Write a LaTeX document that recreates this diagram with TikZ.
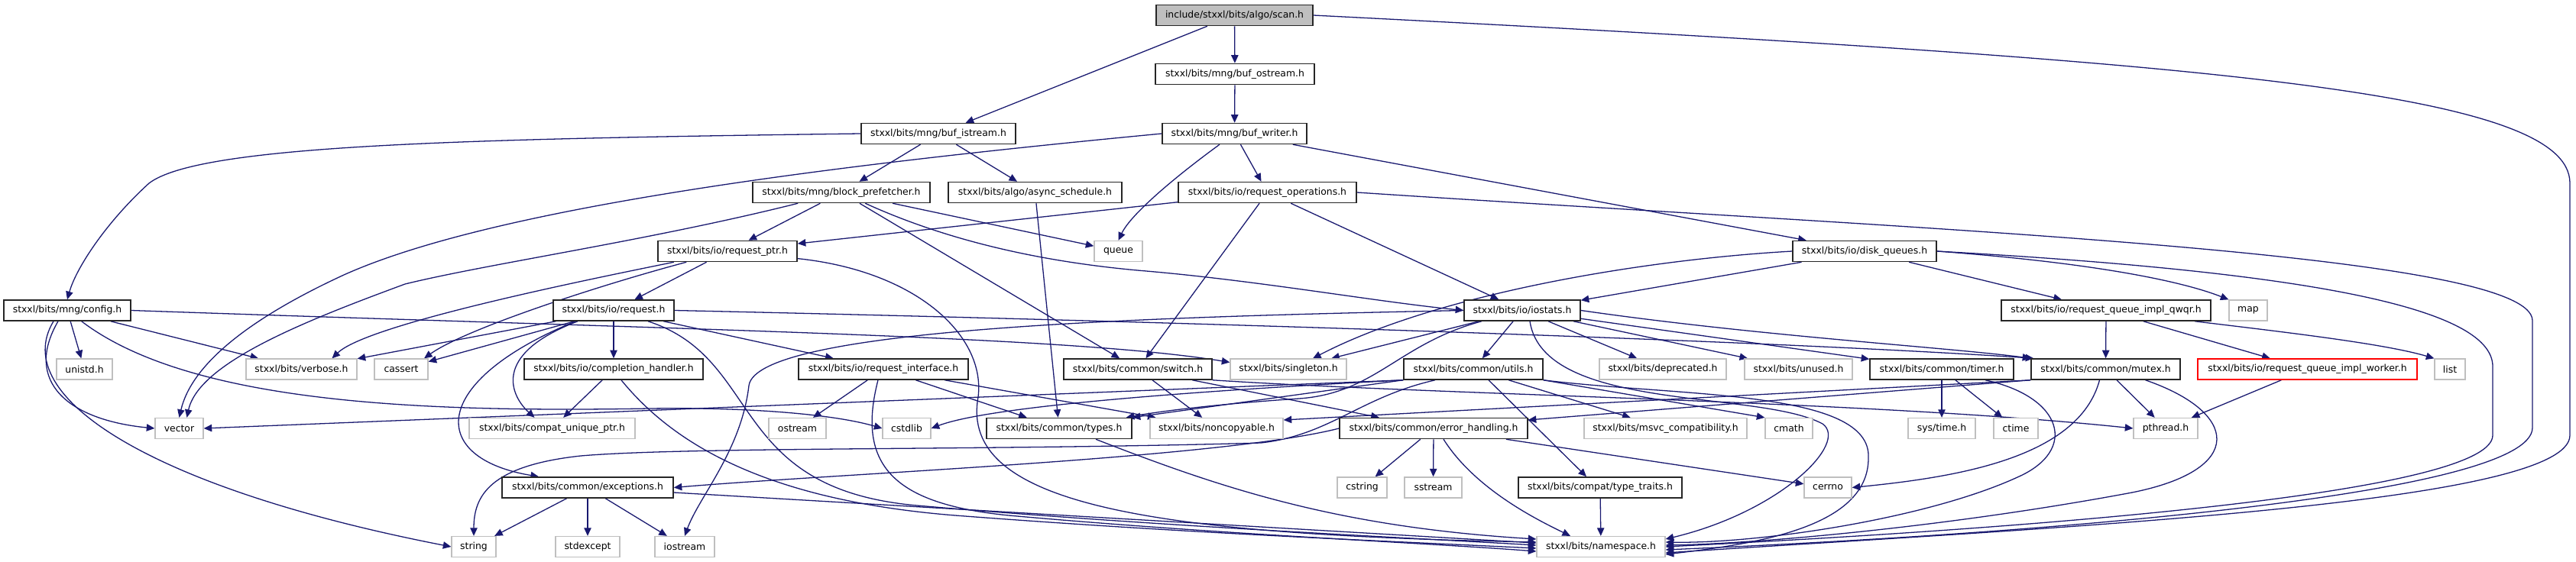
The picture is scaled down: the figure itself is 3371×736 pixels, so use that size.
\documentclass[tikz,border=0pt]{standalone}
\usepackage{fontspec}
\setmainfont{DejaVu Sans}
\usetikzlibrary{arrows.meta,calc,backgrounds}
\definecolor{edgeblue}{HTML}{191970}
\definecolor{sysgrey}{HTML}{BFBFBF}

\begin{document}
\begin{tikzpicture}[
        x=0.03cm, y=-0.03cm,
        hdr/.style={rectangle, draw=black!85, line width=1.3pt, fill=white, inner sep=0pt, minimum height=0.81cm, font=\fontsize{10.6}{12}\selectfont},
        sys/.style={hdr, draw=sysgrey, line width=1.1pt},
        root/.style={hdr, fill=sysgrey},
        undoc/.style={hdr, draw=red},
        dep/.style={-{Triangle[length=9pt, width=8pt]}, line width=1.1pt, draw=edgeblue}
    ]
        \useasboundingbox (0,0) rectangle (3371,736);

        \node[root, minimum width=6.15cm] (scan) at (1615.5,20) {include/stxxl/bits/algo/scan.h};
        \node[hdr, minimum width=6.24cm] (bufo) at (1616,97) {stxxl/bits/mng/buf\_ostream.h};
        \node[hdr, minimum width=6.06cm] (bufi) at (1228,175) {stxxl/bits/mng/buf\_istream.h};
        \node[hdr, minimum width=5.67cm] (bufw) at (1615.5,175) {stxxl/bits/mng/buf\_writer.h};
        \node[hdr, minimum width=6.96cm] (prefetch) at (1101,252) {stxxl/bits/mng/block\_prefetcher.h};
        \node[hdr, minimum width=6.81cm] (async) at (1354.5,252) {stxxl/bits/algo/async\_schedule.h};
        \node[hdr, minimum width=6.99cm] (reqops) at (1658.5,252) {stxxl/bits/io/request\_operations.h};
        \node[hdr, minimum width=5.46cm] (reqptr) at (952,329) {stxxl/bits/io/request\_ptr.h};
        \node[sys, minimum width=1.89cm] (queue) at (1463.5,329) {queue};
        \node[hdr, minimum width=5.64cm] (diskq) at (2440,329) {stxxl/bits/io/disk\_queues.h};
        \node[hdr, minimum width=4.98cm] (config) at (88,406.5) {stxxl/bits/mng/config.h};
        \node[hdr, minimum width=4.74cm] (request) at (803,406.5) {stxxl/bits/io/request.h};
        \node[hdr, minimum width=4.56cm] (iostats) at (1992,406.5) {stxxl/bits/io/iostats.h};
        \node[hdr, minimum width=8.22cm] (qwqr) at (2756,406.5) {stxxl/bits/io/request\_queue\_impl\_qwqr.h};
        \node[sys, minimum width=1.5cm] (map) at (2942,406.5) {map};

        \node[sys, minimum width=2.19cm] (unistd) at (110.5,483.5) {unistd.h};
        \node[sys, minimum width=4.35cm] (verbose) at (394.5,483.5) {stxxl/bits/verbose.h};
        \node[sys, minimum width=2.1cm] (cassert) at (525,483.5) {cassert};
        \node[hdr, minimum width=7.02cm] (complh) at (803,483.5) {stxxl/bits/io/completion\_handler.h};
        \node[hdr, minimum width=6.66cm] (reqif) at (1156,483.5) {stxxl/bits/io/request\_interface.h};
        \node[hdr, minimum width=5.82cm] (switch) at (1489,483.5) {stxxl/bits/common/switch.h};
        \node[sys, minimum width=4.56cm] (singleton) at (1686,483.5) {stxxl/bits/singleton.h};
        \node[hdr, minimum width=5.46cm] (utils) at (1928,483.5) {stxxl/bits/common/utils.h};
        \node[sys, minimum width=4.98cm] (deprecated) at (2176,483.5) {stxxl/bits/deprecated.h};
        \node[sys, minimum width=4.23cm] (unused) at (2353.5,483.5) {stxxl/bits/unused.h};
        \node[hdr, minimum width=5.64cm] (timer) at (2541,483.5) {stxxl/bits/common/timer.h};
        \node[hdr, minimum width=5.85cm] (mutex) at (2755.5,483.5) {stxxl/bits/common/mutex.h};
        \node[undoc, minimum width=8.61cm] (worker) at (3019.5,483.5) {stxxl/bits/io/request\_queue\_impl\_worker.h};
        \node[sys, minimum width=1.2cm] (list) at (3206,483.5) {list};

        \node[sys, minimum width=1.89cm] (vector) at (234.5,561) {vector};
        \node[sys, minimum width=6.51cm] (cuptr) at (722.5,561) {stxxl/bits/compat\_unique\_ptr.h};
        \node[sys, minimum width=2.25cm] (ostream) at (1043.5,561) {ostream};
        \node[sys, minimum width=1.89cm] (cstdlib) at (1186.5,561) {cstdlib};
        \node[hdr, minimum width=5.7cm] (types) at (1386,561) {stxxl/bits/common/types.h};
        \node[sys, minimum width=5.22cm] (noncopy) at (1592,561) {stxxl/bits/noncopyable.h};
        \node[hdr, minimum width=7.38cm] (errh) at (1876,561) {stxxl/bits/common/error\_handling.h};
        \node[sys, minimum width=6.39cm] (msvc) at (2179.5,561) {stxxl/bits/msvc\_compatibility.h};
        \node[sys, minimum width=1.86cm] (cmath) at (2341,561) {cmath};
        \node[sys, minimum width=2.64cm] (systime) at (2541,561) {sys/time.h};
        \node[sys, minimum width=1.74cm] (ctime) at (2638,561) {ctime};
        \node[sys, minimum width=2.52cm] (pthread) at (2834,561) {pthread.h};

        \node[hdr, minimum width=6.72cm] (except) at (769,638.5) {stxxl/bits/common/exceptions.h};
        \node[sys, minimum width=1.95cm] (cstring) at (1782.5,638.5) {cstring};
        \node[sys, minimum width=2.25cm] (sstream) at (1875.5,638.5) {sstream};
        \node[hdr, minimum width=6.42cm] (typetr) at (2094,638.5) {stxxl/bits/compat/type\_traits.h};
        \node[sys, minimum width=1.86cm] (cerrno) at (2392,638.5) {cerrno};

        \node[sys, minimum width=1.74cm] (string) at (620,716) {string};
        \node[sys, minimum width=2.52cm] (stdexcept) at (769,716) {stdexcept};
        \node[sys, minimum width=2.34cm] (iostream) at (896,716) {iostream};
        \node[sys, minimum width=5.04cm] (namespace) at (2095,716) {stxxl/bits/namespace.h};

        \begin{scope}[on background layer]
        \fill[white] (0,0) rectangle (3371,736);

        \draw[dep] (scan) -- (bufi);
        \draw[dep] (scan) -- (bufo);
        \draw[dep] (scan.east) .. controls (2900,80) and (3363,120) .. (3363,240) -- (3363,570) .. controls (3363,660) and (2700,690) .. ($(namespace.east)+(0,8)$);
        \draw[dep] (bufo) -- (bufw);
        \draw[dep] (bufi.west) .. controls (600,182) and (260,190) .. (195,240) .. controls (140,290) and (100,350) .. (config.north);
        \draw[dep] (bufi) -- (prefetch);
        \draw[dep] (bufi) -- (async);
        \draw[dep] (bufw.west) .. controls (1100,215) and (650,270) .. (450,360) .. controls (320,420) and (250,480) .. (vector.north);
        \draw[dep] (bufw) .. controls (1540,230) and (1480,280) .. (queue.north);
        \draw[dep] (bufw) -- (reqops);
        \draw[dep] (bufw) -- (diskq);

        \draw[dep] (prefetch) -- (reqptr);
        \draw[dep] (prefetch) .. controls (850,315) and (640,345) .. (530,372) .. controls (400,420) and (260,475) .. ($(vector.north)+(10,0)$);
        \draw[dep] (prefetch) -- (switch);
        \draw[dep] (prefetch) .. controls (1250,320) and (1380,345) .. (1500,355) .. controls (1650,368) and (1800,395) .. (iostats.west);
        \draw[dep] (prefetch) -- (queue);
        \draw[dep] (async) -- (types);
        \draw[dep] (reqops) -- (reqptr);
        \draw[dep] (reqops) -- (switch);
        \draw[dep] (reqops) -- (iostats);
        \draw[dep] (reqops.east) .. controls (2500,300) and (3314,330) .. (3314,420) -- (3314,560) .. controls (3314,650) and (2650,700) .. ($(namespace.east)+(0,4)$);

        \draw[dep] (reqptr) -- (request);
        \draw[dep] (reqptr) .. controls (760,368) and (480,425) .. ($(verbose.north)+(40,0)$);
        \draw[dep] (reqptr) .. controls (790,372) and (610,430) .. ($(cassert.north)+(30,0)$);
        \draw[dep] (reqptr) .. controls (1200,355) and (1290,440) .. (1280,520) .. controls (1255,660) and (1500,700) .. ($(namespace.west)+(0,-6)$);
        \draw[dep] (diskq) -- (iostats);
        \draw[dep] (diskq.west) .. controls (2150,340) and (1880,385) .. ($(singleton.north)+(32,0)$);
        \draw[dep] (diskq) -- (qwqr);
        \draw[dep] (diskq.east) .. controls (2750,345) and (2860,370) .. (map.north west);
        \draw[dep] (diskq.east) .. controls (3000,355) and (3262,400) .. (3262,480) -- (3262,570) .. controls (3262,650) and (2600,695) .. (namespace.east);

        \draw[dep] (config) -- (unistd);
        \draw[dep] (config) -- (verbose);
        \draw[dep] ($(config.south)+(-12,0)$) .. controls (30,500) and (90,550) .. (vector.west);
        \draw[dep] ($(config.south)+(-18,0)$) .. controls (10,520) and (200,640) .. (string.west);
        \draw[dep] (config) .. controls (250,530) and (560,540) .. (850,535) .. controls (1000,533) and (1100,545) .. (cstdlib.west);
        \draw[dep] (config.east) .. controls (900,432) and (1400,440) .. ($(singleton.west)+(0,-9)$);

        \draw[dep] (request) -- (verbose);
        \draw[dep] (request) -- (cassert);
        \draw[dep] (request) -- (complh);
        \draw[dep] ($(request.south)+(-47,0)$) .. controls (640,465) and (670,520) .. ($(cuptr.north)+(-23,0)$);
        \draw[dep] ($(request.south)+(-50,0)$) .. controls (560,500) and (560,600) .. ($(except.north)+(-64,0)$);
        \draw[dep] (request) -- (reqif);
        \draw[dep] (request.east) .. controls (1500,420) and (2300,445) .. ($(mutex.north west)+(4,0)$);
        \draw[dep] ($(request.south)+(45,0)$) .. controls (1000,470) and (950,640) .. (1200,662) .. controls (1500,688) and (1800,702) .. ($(namespace.west)+(0,-2)$);
        \draw[dep] (iostats) .. controls (1830,450) and (1800,515) .. (1700,522) .. controls (1580,530) and (1510,540) .. ($(types.north east)+(-8,0)$);
        \draw[dep] (iostats) -- (singleton);
        \draw[dep] (iostats) -- (utils);
        \draw[dep] (iostats) -- (deprecated);
        \draw[dep] (iostats) -- (unused);
        \draw[dep] (iostats) -- (timer);
        \draw[dep] (iostats.east) .. controls (2300,440) and (2550,455) .. (mutex.north west);
        \draw[dep] (iostats.west) .. controls (1500,415) and (990,430) .. (980,505) .. controls (970,590) and (915,650) .. (iostream.north);
        \draw[dep] ($(iostats.south)+(10,0)$) .. controls (2020,540) and (2300,510) .. (2385,555) .. controls (2420,580) and (2330,670) .. ($(namespace.east)+(0,-10)$);
        \draw[dep] (qwqr) -- (mutex);
        \draw[dep] (qwqr) -- (worker);
        \draw[dep] ($(qwqr.south)+(116,0)$) .. controls (2990,435) and (3120,450) .. (list.north west);

        \draw[dep] (complh) -- (cuptr);
        \draw[dep] ($(complh.south)+(10,0)$) .. controls (880,580) and (1000,655) .. (1250,675) .. controls (1550,698) and (1800,708) .. ($(namespace.west)+(0,2)$);
        \draw[dep] (reqif) -- (ostream);
        \draw[dep] (reqif) -- (types);
        \draw[dep] (reqif) -- (noncopy);
        \draw[dep] ($(reqif.south)+(-7,0)$) .. controls (1120,610) and (1170,660) .. (1320,675) .. controls (1600,700) and (1850,710) .. ($(namespace.west)+(0,6)$);
        \draw[dep] (switch) -- (noncopy);
        \draw[dep] (switch) -- (errh);
        \draw[dep] (switch.south east) .. controls (1900,518) and (2450,525) .. (pthread.west);
        \draw[dep] (utils.south west) -- (vector.east);
        \draw[dep] ($(utils.south)+(-50,0)$) .. controls (1780,520) and (1740,570) .. (1650,580) .. controls (1300,590) and (900,585) .. (760,597) .. controls (640,610) and (620,650) .. (string.north);
        \draw[dep] (utils.south west) .. controls (1600,510) and (1300,530) .. (cstdlib.east);
        \draw[dep] (utils.south west) -- (types.north east);
        \draw[dep] (utils) -- (msvc);
        \draw[dep] (utils.south east) -- (cmath.north west);
        \draw[dep] ($(utils.south)+(20,0)$) -- ($(typetr.north)+(-18,0)$);
        \draw[dep] (utils.south east) .. controls (2200,520) and (2450,510) .. (2445,600) .. controls (2445,690) and (2300,712) .. ($(namespace.east)+(0,10)$);
        \draw[dep] (timer) -- (systime);
        \draw[dep] (timer) -- (ctime);
        \draw[dep] ($(timer.south)+(57,0)$) .. controls (2700,520) and (2720,590) .. (2640,625) .. controls (2520,680) and (2300,712) .. ($(namespace.east)+(0,-6)$);
        \draw[dep] (mutex.south west) -- ($(noncopy.east)+(0,-11)$);
        \draw[dep] (mutex.south west) -- ($(errh.east)+(0,-11)$);
        \draw[dep] (mutex) -- (pthread);
        \draw[dep] ($(mutex.south)+(-8,0)$) .. controls (2720,600) and (2560,625) .. (cerrno.east);
        \draw[dep] ($(mutex.south)+(52,0)$) .. controls (2930,540) and (2940,615) .. (2790,645) .. controls (2550,690) and (2300,712) .. ($(namespace.east)+(0,-2)$);
        \draw[dep] (worker) -- (pthread);

        \draw[dep] (errh) -- (cstring);
        \draw[dep] (errh) -- (sstream);
        \draw[dep] ($(errh.south)+(13,0)$) .. controls (1930,640) and (2010,680) .. ($(namespace.north)+(-40,0)$);
        \draw[dep] (errh) -- (cerrno);
        \draw[dep] (errh.west) .. controls (1600,600) and (1100,620) .. (except.east);
        \draw[dep] ($(types.south)+(48,0)$) .. controls (1600,640) and (1750,690) .. ($(namespace.west)+(0,-10)$);
        \draw[dep] (except) -- (string);
        \draw[dep] (except) -- (stdexcept);
        \draw[dep] (except) -- (iostream);
        \draw[dep] (except) -- (namespace);
        \draw[dep] (typetr) -- (namespace);
        \end{scope}
    \end{tikzpicture}
\end{document}
